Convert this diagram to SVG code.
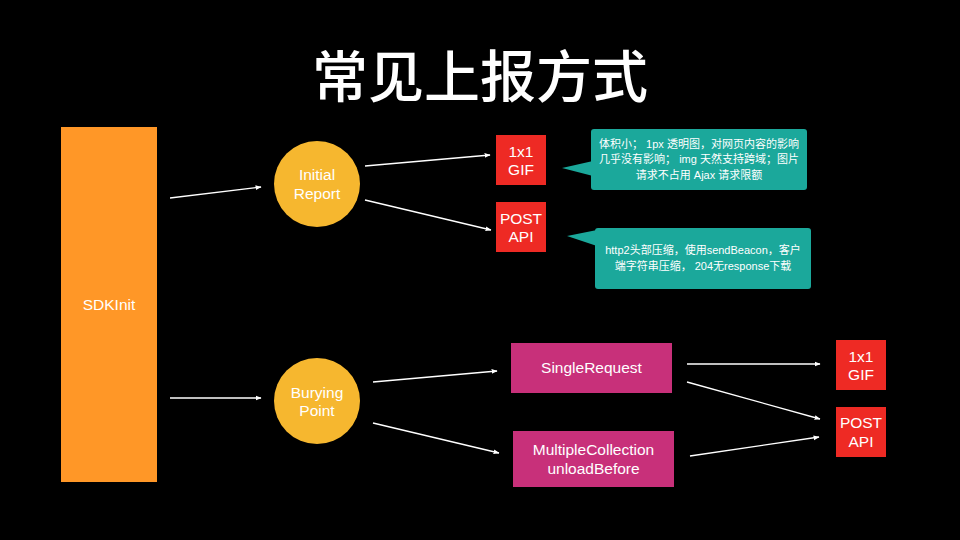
<svg xmlns="http://www.w3.org/2000/svg" width="960" height="540" viewBox="0 0 960 540">
<defs>
<marker id="ah" viewBox="0 0 10 10" refX="9" refY="5" markerWidth="6" markerHeight="6" markerUnits="userSpaceOnUse" orient="auto">
<path d="M0,1 L10,5 L0,9 z" fill="#ffffff"/>
</marker>
<style>
.t{font-family:"Liberation Sans","Noto Sans CJK SC",sans-serif;fill:#ffffff;text-anchor:middle}
.n{font-size:15.5px}
.c{font-size:11px}
.e{stroke:#ffffff;stroke-width:1.3;fill:none;marker-end:url(#ah)}
.red{fill:#EE2A24}
.pink{fill:#C8307A}
.circ{fill:#F6B72F}
.teal{fill:#1BA89B}
</style>
</defs>
<rect width="960" height="540" fill="#000000"/>
<text x="480" y="97" class="t" style="font-family:'Noto Sans CJK SC',sans-serif;font-size:56px;font-weight:500">常见上报方式</text>

<g id="connectors">
<line class="e" x1="170" y1="198" x2="261" y2="187"/>
<line class="e" x1="170" y1="398" x2="261" y2="398"/>
<line class="e" x1="365" y1="166" x2="490" y2="155"/>
<line class="e" x1="365" y1="200" x2="491" y2="230"/>
<line class="e" x1="373" y1="382" x2="497" y2="371"/>
<line class="e" x1="373" y1="423" x2="499" y2="453"/>
<line class="e" x1="687" y1="364" x2="820" y2="364"/>
<line class="e" x1="687" y1="382" x2="820" y2="419"/>
<line class="e" x1="690" y1="456" x2="819" y2="437"/>
</g>

<g id="sdkinit">
<rect x="61" y="127" width="96" height="355" fill="#FF9727"/>
<text x="109" y="310" class="t n">SDKInit</text>
</g>

<g id="initial-report">
<circle cx="317" cy="184" r="43" class="circ"/>
<text x="317" y="180" class="t n">Initial</text>
<text x="317" y="199" class="t n">Report</text>
</g>

<g id="burying-point">
<circle cx="317" cy="401" r="43" class="circ"/>
<text x="317" y="398" class="t n">Burying</text>
<text x="317" y="416" class="t n">Point</text>
</g>

<g id="gif1">
<rect x="496" y="135" width="50" height="50" class="red"/>
<text x="521" y="157" class="t n">1x1</text>
<text x="521" y="175" class="t n">GIF</text>
</g>

<g id="post1">
<rect x="496" y="202" width="50" height="50" class="red"/>
<text x="521" y="224" class="t n">POST</text>
<text x="521" y="242" class="t n">API</text>
</g>

<g id="note1">
<polygon points="562,168 593,161 593,176" class="teal"/>
<rect x="591" y="129" width="216" height="61" rx="3" class="teal"/>
<text x="699" y="148" class="t c">体积小； 1px 透明图，对网页内容的影响</text>
<text x="699" y="163" class="t c">几乎没有影响； img 天然支持跨域；图片</text>
<text x="699" y="179" class="t c">请求不占用 Ajax 请求限额</text>
</g>

<g id="note2">
<polygon points="567,236 597,230 597,246" class="teal"/>
<rect x="595" y="228" width="216" height="61" rx="3" class="teal"/>
<text x="703" y="254" class="t c">http2头部压缩，使用sendBeacon，客户</text>
<text x="703" y="270" class="t c">端字符串压缩， 204无response下载</text>
</g>

<g id="single-request">
<rect x="511" y="343" width="161" height="50" class="pink"/>
<text x="591.5" y="373" class="t n">SingleRequest</text>
</g>

<g id="multiple-collection">
<rect x="513" y="431" width="161" height="56" class="pink"/>
<text x="593.5" y="455" class="t n">MultipleCollection</text>
<text x="593.5" y="474" class="t n">unloadBefore</text>
</g>

<g id="gif2">
<rect x="836" y="340" width="50" height="50" class="red"/>
<text x="861" y="362" class="t n">1x1</text>
<text x="861" y="380" class="t n">GIF</text>
</g>

<g id="post2">
<rect x="836" y="407" width="50" height="50" class="red"/>
<text x="861" y="428" class="t n">POST</text>
<text x="861" y="447" class="t n">API</text>
</g>
</svg>
